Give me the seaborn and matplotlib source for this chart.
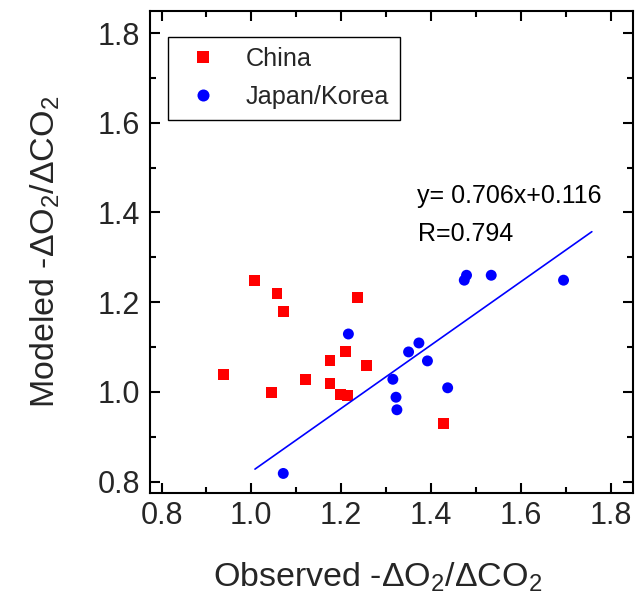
import matplotlib
matplotlib.use("Agg")
import matplotlib.pyplot as plt
import seaborn as sns
import pandas as pd
import numpy as np
from matplotlib.ticker import MultipleLocator

# ---- data ----
china_x = [0.938, 1.006, 1.044, 1.057, 1.071, 1.121, 1.175, 1.175, 1.198, 1.213, 1.209, 1.237, 1.256, 1.427]
china_y = [1.039, 1.249, 0.999, 1.219, 1.179, 1.028, 1.069, 1.019, 0.994, 0.991, 1.089, 1.210, 1.058, 0.929]
jk_x = [1.071, 1.216, 1.315, 1.322, 1.324, 1.350, 1.373, 1.392, 1.437, 1.474, 1.479, 1.534, 1.695]
jk_y = [0.818, 1.129, 1.028, 0.988, 0.960, 1.089, 1.109, 1.069, 1.009, 1.249, 1.260, 1.260, 1.249]
groups = ["China", "Japan/Korea"]
fit_slope = 0.706
fit_intercept = 0.116
fit_r = 0.794
fit_x = [1.008, 1.758]
x_ticks = [0.8, 1.0, 1.2, 1.4, 1.6, 1.8]
y_ticks = [0.8, 1.0, 1.2, 1.4, 1.6, 1.8]

df = pd.DataFrame({
    "obs": china_x + jk_x,
    "mod": china_y + jk_y,
    "region": [groups[0]] * len(china_x) + [groups[1]] * len(jk_x),
})

sns.set_style("ticks")
plt.rcParams["font.family"] = ["Liberation Sans", "DejaVu Sans"]
plt.rcParams["mathtext.fontset"] = "custom"
plt.rcParams["mathtext.rm"] = "Liberation Sans"
plt.rcParams["mathtext.it"] = "Liberation Sans:italic"
plt.rcParams["mathtext.default"] = "rm"

fig = plt.figure(figsize=(6.35, 6.08), dpi=100)
ax = fig.add_axes([0.236, 0.1896, 0.7604, 0.7928])

sns.scatterplot(data=df, x="obs", y="mod", hue="region", style="region",
                palette={"China": "#ff0000", "Japan/Korea": "#0000ff"},
                markers={"China": "s", "Japan/Korea": "o"},
                s=62, linewidth=0, ax=ax, legend=True)

fx = np.array(fit_x)
ax.plot(fx, fit_slope * fx + fit_intercept, color="#0000ff", lw=1.2)

ax.text(1.368, 1.4205, f"y= {fit_slope:.3f}x+{fit_intercept:.3f}", fontsize=18,
        va="baseline", ha="left", color="black")
ax.text(1.370, 1.337, f"R={fit_r:.3f}", fontsize=18, va="baseline", ha="left", color="black")

ax.set_xlim(0.774, 1.849)
ax.set_ylim(0.775, 1.850)
ax.set_xticks(x_ticks)
ax.set_yticks(y_ticks)
ax.set_xticklabels([f"{v:.1f}" for v in x_ticks])
ax.set_yticklabels([f"{v:.1f}" for v in y_ticks])
ax.xaxis.set_minor_locator(MultipleLocator(0.1))
ax.yaxis.set_minor_locator(MultipleLocator(0.1))
ax.tick_params(which="both", direction="in", top=True, right=True, width=1.5, color="black")
ax.tick_params(which="major", length=7.5)
ax.tick_params(which="minor", length=4.5)
ax.tick_params(axis="x", which="major", labelsize=22, pad=6)
ax.tick_params(axis="y", which="major", labelsize=22, pad=7)
for sp in ax.spines.values():
    sp.set_visible(True)
    sp.set_linewidth(1.5)
    sp.set_color("black")

lab_font = dict(family=["Liberation Sans", "DejaVu Sans"], size=24.5)
ax.set_xlabel("Observed -\u0394O$_2$/\u0394CO$_2$", **lab_font)
ax.set_ylabel("Modeled -\u0394O$_2$/\u0394CO$_2$", **lab_font)
ax.xaxis.set_label_coords(0.471, -0.14)
ax.yaxis.set_label_coords(-0.182, 0.5)

handles, labels = ax.get_legend_handles_labels()
leg = ax.legend(handles, labels, loc="upper left", bbox_to_anchor=(0.038, 0.946),
                borderaxespad=0, fontsize=18.2, frameon=True, fancybox=False,
                edgecolor="black", handlelength=1.9, handletextpad=0.75,
                borderpad=0.42, labelspacing=0.55, markerscale=1.1)
leg.get_frame().set_linewidth(1.0)
leg.get_frame().set_alpha(1)

fig.savefig("out.png", dpi=100, facecolor="white")
